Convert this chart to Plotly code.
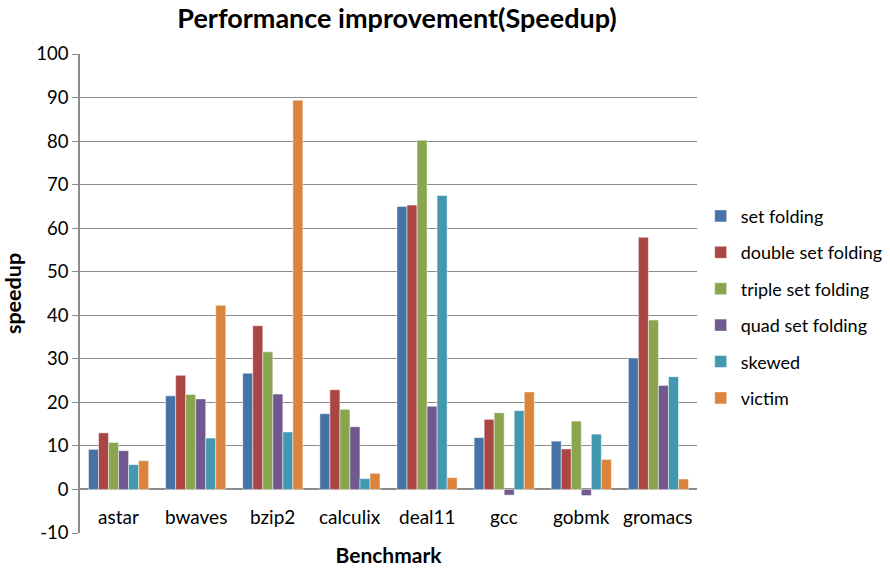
import plotly.graph_objects as go

# Benchmarks and speedup per cache scheme
benchmarks = ["astar", "bwaves", "bzip2", "calculix", "deal11", "gcc", "gobmk", "gromacs"]

set_folding = [9.2, 21.5, 26.7, 17.4, 65.0, 11.9, 11.1, 30.2]
double_set_folding = [13.0, 26.2, 37.6, 22.9, 65.3, 16.1, 9.3, 57.9]
triple_set_folding = [10.8, 21.8, 31.6, 18.4, 80.2, 17.6, 15.7, 38.9]
quad_set_folding = [8.9, 20.8, 21.9, 14.4, 19.1, -1.3, -1.4, 23.9]
skewed = [5.7, 11.8, 13.2, 2.5, 67.5, 18.1, 12.7, 25.9]
victim = [6.6, 42.3, 89.4, 3.7, 2.7, 22.4, 6.9, 2.4]

y_ticks = [-10, 0, 10, 20, 30, 40, 50, 60, 70, 80, 90, 100]
y_tick_text = [str(v) for v in y_ticks]

series = [
    ("set folding", set_folding, "#4572A7"),
    ("double set folding", double_set_folding, "#AA4643"),
    ("triple set folding", triple_set_folding, "#89A54E"),
    ("quad set folding", quad_set_folding, "#71588F"),
    ("skewed", skewed, "#4198AF"),
    ("victim", victim, "#DB843D"),
]

FONT = "Lato, Calibri, 'Liberation Sans', sans-serif"
GRID = "#8c8c8c"

fig = go.Figure()
for i, (name, vals, color) in enumerate(series):
    fig.add_trace(go.Bar(
        name=name, x=benchmarks, y=vals,
        marker=dict(color=color, line=dict(color="rgba(255,255,255,0.6)", width=0.8)),
        legendgroup=f"g{i}",
    ))

# Category labels sit just under the zero line
for b in benchmarks:
    fig.add_annotation(x=b, y=0, xref="x", yref="y", text=b, showarrow=False,
                       yshift=-27, yanchor="middle",
                       font=dict(family=FONT, size=19, color="black"))

fig.update_layout(
    width=890, height=569,
    paper_bgcolor="white", plot_bgcolor="white",
    margin=dict(l=80, r=193, t=54, b=36, autoexpand=False),
    barmode="group", bargap=0.22, bargroupgap=0,
    font=dict(family=FONT, size=18, color="black"),
    title=dict(text="<b>Performance improvement(Speedup)</b>", x=397 / 890, xanchor="center",
               y=1 - 19 / 569, yanchor="middle", font=dict(family=FONT, size=27, color="black")),
    legend=dict(x=1.006, xanchor="left", y=0.7, yanchor="top",
                traceorder="grouped", tracegroupgap=10,
                font=dict(family=FONT, size=18, color="black"),
                itemwidth=30),
    showlegend=True,
)

fig.update_xaxes(showticklabels=False, showgrid=False, showline=False, ticks="",
                 title=dict(text="<b>Benchmark</b>", standoff=15,
                            font=dict(family=FONT, size=21, color="black")))
fig.update_yaxes(range=[-10, 100], tickmode="array", tickvals=y_ticks, ticktext=y_tick_text,
                 showgrid=True, gridcolor=GRID, gridwidth=1,
                 zeroline=True, zerolinecolor=GRID, zerolinewidth=1.5,
                 showline=True, linecolor=GRID, linewidth=1.5,
                 ticks="outside", ticklen=6, tickcolor=GRID,
                 tickfont=dict(family=FONT, size=18.5, color="black"),
                 title=dict(text="<b>speedup</b>", standoff=12,
                            font=dict(family=FONT, size=21.5, color="black")))

fig.write_html("out.html")
